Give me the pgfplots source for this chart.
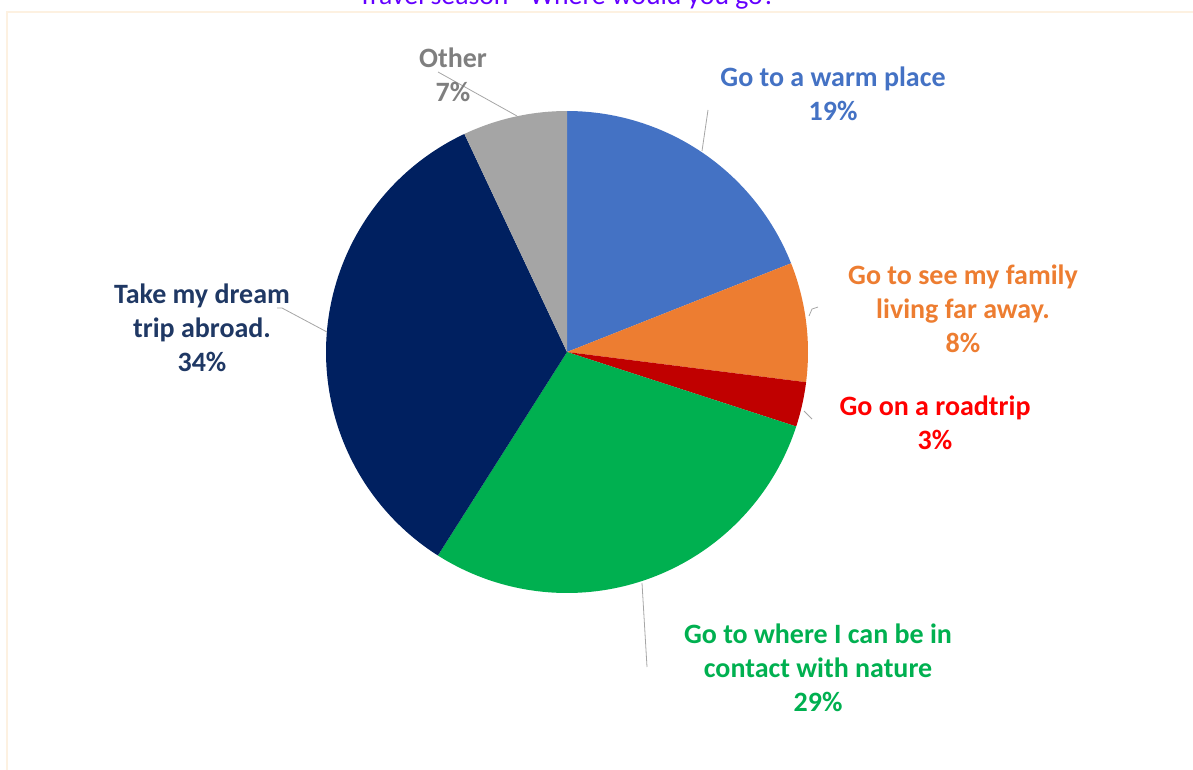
\documentclass[border=0pt]{standalone}
\usepackage{fontspec}
\setmainfont{Carlito}
\usepackage{pgfplots}
\pgfplotsset{compat=1.18}
\definecolor{cWarm}{HTML}{4472C4}
\definecolor{cFam}{HTML}{ED7D31}
\definecolor{cRoad}{HTML}{C00000}
\definecolor{cRoadT}{HTML}{FF0000}
\definecolor{cNat}{HTML}{00B050}
\definecolor{cAbr}{HTML}{002060}
\definecolor{cAbrT}{HTML}{1F3864}
\definecolor{cOth}{HTML}{A5A5A5}
\definecolor{cOthT}{HTML}{7F7F7F}
\definecolor{cTitle}{RGB}{100,0,255}
\definecolor{cFrame}{HTML}{FDF1E1}
\definecolor{cLead}{HTML}{A6A6A6}
\begin{document}
\begin{tikzpicture}
\useasboundingbox (0,0) rectangle (1193pt,770pt);
\clip (0,0) rectangle (1193pt,770pt);
\begin{axis}[at={(0,0)}, anchor=south west, width=1193pt, height=770pt, scale only axis,
  xmin=0, xmax=1193, ymin=0, ymax=770, y dir=reverse, hide axis, clip=false,
  variable=\t]
% frame
\draw[cFrame, line width=2pt] (axis cs:7,800) -- (axis cs:7,12) -- (axis cs:1220,12);
% slices: cumulative percentages, clockwise from the top
\addplot[fill=cWarm, draw=none, domain=0:19, samples=60] ({567+241*sin(3.6*t)}, {352-241*cos(3.6*t)}) -- (axis cs:567,352) -- cycle;
\addplot[fill=cFam, draw=none, domain=19:27, samples=30] ({567+241*sin(3.6*t)}, {352-241*cos(3.6*t)}) -- (axis cs:567,352) -- cycle;
\addplot[fill=cRoad, draw=none, domain=27:30, samples=15] ({567+241*sin(3.6*t)}, {352-241*cos(3.6*t)}) -- (axis cs:567,352) -- cycle;
\addplot[fill=cNat, draw=none, domain=30:59, samples=80] ({567+241*sin(3.6*t)}, {352-241*cos(3.6*t)}) -- (axis cs:567,352) -- cycle;
\addplot[fill=cAbr, draw=none, domain=59:93, samples=90] ({567+241*sin(3.6*t)}, {352-241*cos(3.6*t)}) -- (axis cs:567,352) -- cycle;
\addplot[fill=cOth, draw=none, domain=93:100, samples=25] ({567+241*sin(3.6*t)}, {352-241*cos(3.6*t)}) -- (axis cs:567,352) -- cycle;
% leader lines
\draw[cLead, line width=0.8pt] (axis cs:438,72) -- (axis cs:517,116);
\draw[cLead, line width=0.8pt] (axis cs:708,110) -- (axis cs:702,151);
\draw[cLead, line width=0.8pt] (axis cs:818,307) -- (axis cs:812,309) -- (axis cs:809,316);
\draw[cLead, line width=0.8pt] (axis cs:804,411) -- (axis cs:812,419);
\draw[cLead, line width=0.8pt] (axis cs:277,308) -- (axis cs:282,308) -- (axis cs:327,332);
\draw[cLead, line width=0.8pt] (axis cs:642,583) -- (axis cs:647,667);
% labels
\tikzset{lab/.style={font=\fontsize{28}{34}\selectfont\bfseries, align=center, anchor=center, inner sep=0pt}}
\node[lab, text=cOthT] at (axis cs:453,75) {Other\\7\%};
\node[lab, text=cWarm] at (axis cs:833,94) {Go to a warm place\\19\%};
\node[lab, text=cFam] at (axis cs:963,309) {Go to see my family\\living far away.\\8\%};
\node[lab, text=cRoadT] at (axis cs:935,423) {Go on a roadtrip\\3\%};
\node[lab, text=cNat] at (axis cs:818,668) {Go to where I can be in\\contact with nature\\29\%};
\node[lab, text=cAbrT] at (axis cs:202,328) {Take my dream\\trip abroad.\\34\%};
\node[font=\fontsize{27.7}{32}\selectfont, text=cTitle, anchor=base, inner sep=0pt] at (axis cs:567,5) {Travel season - Where would you go?};
\end{axis}
\end{tikzpicture}
\end{document}
